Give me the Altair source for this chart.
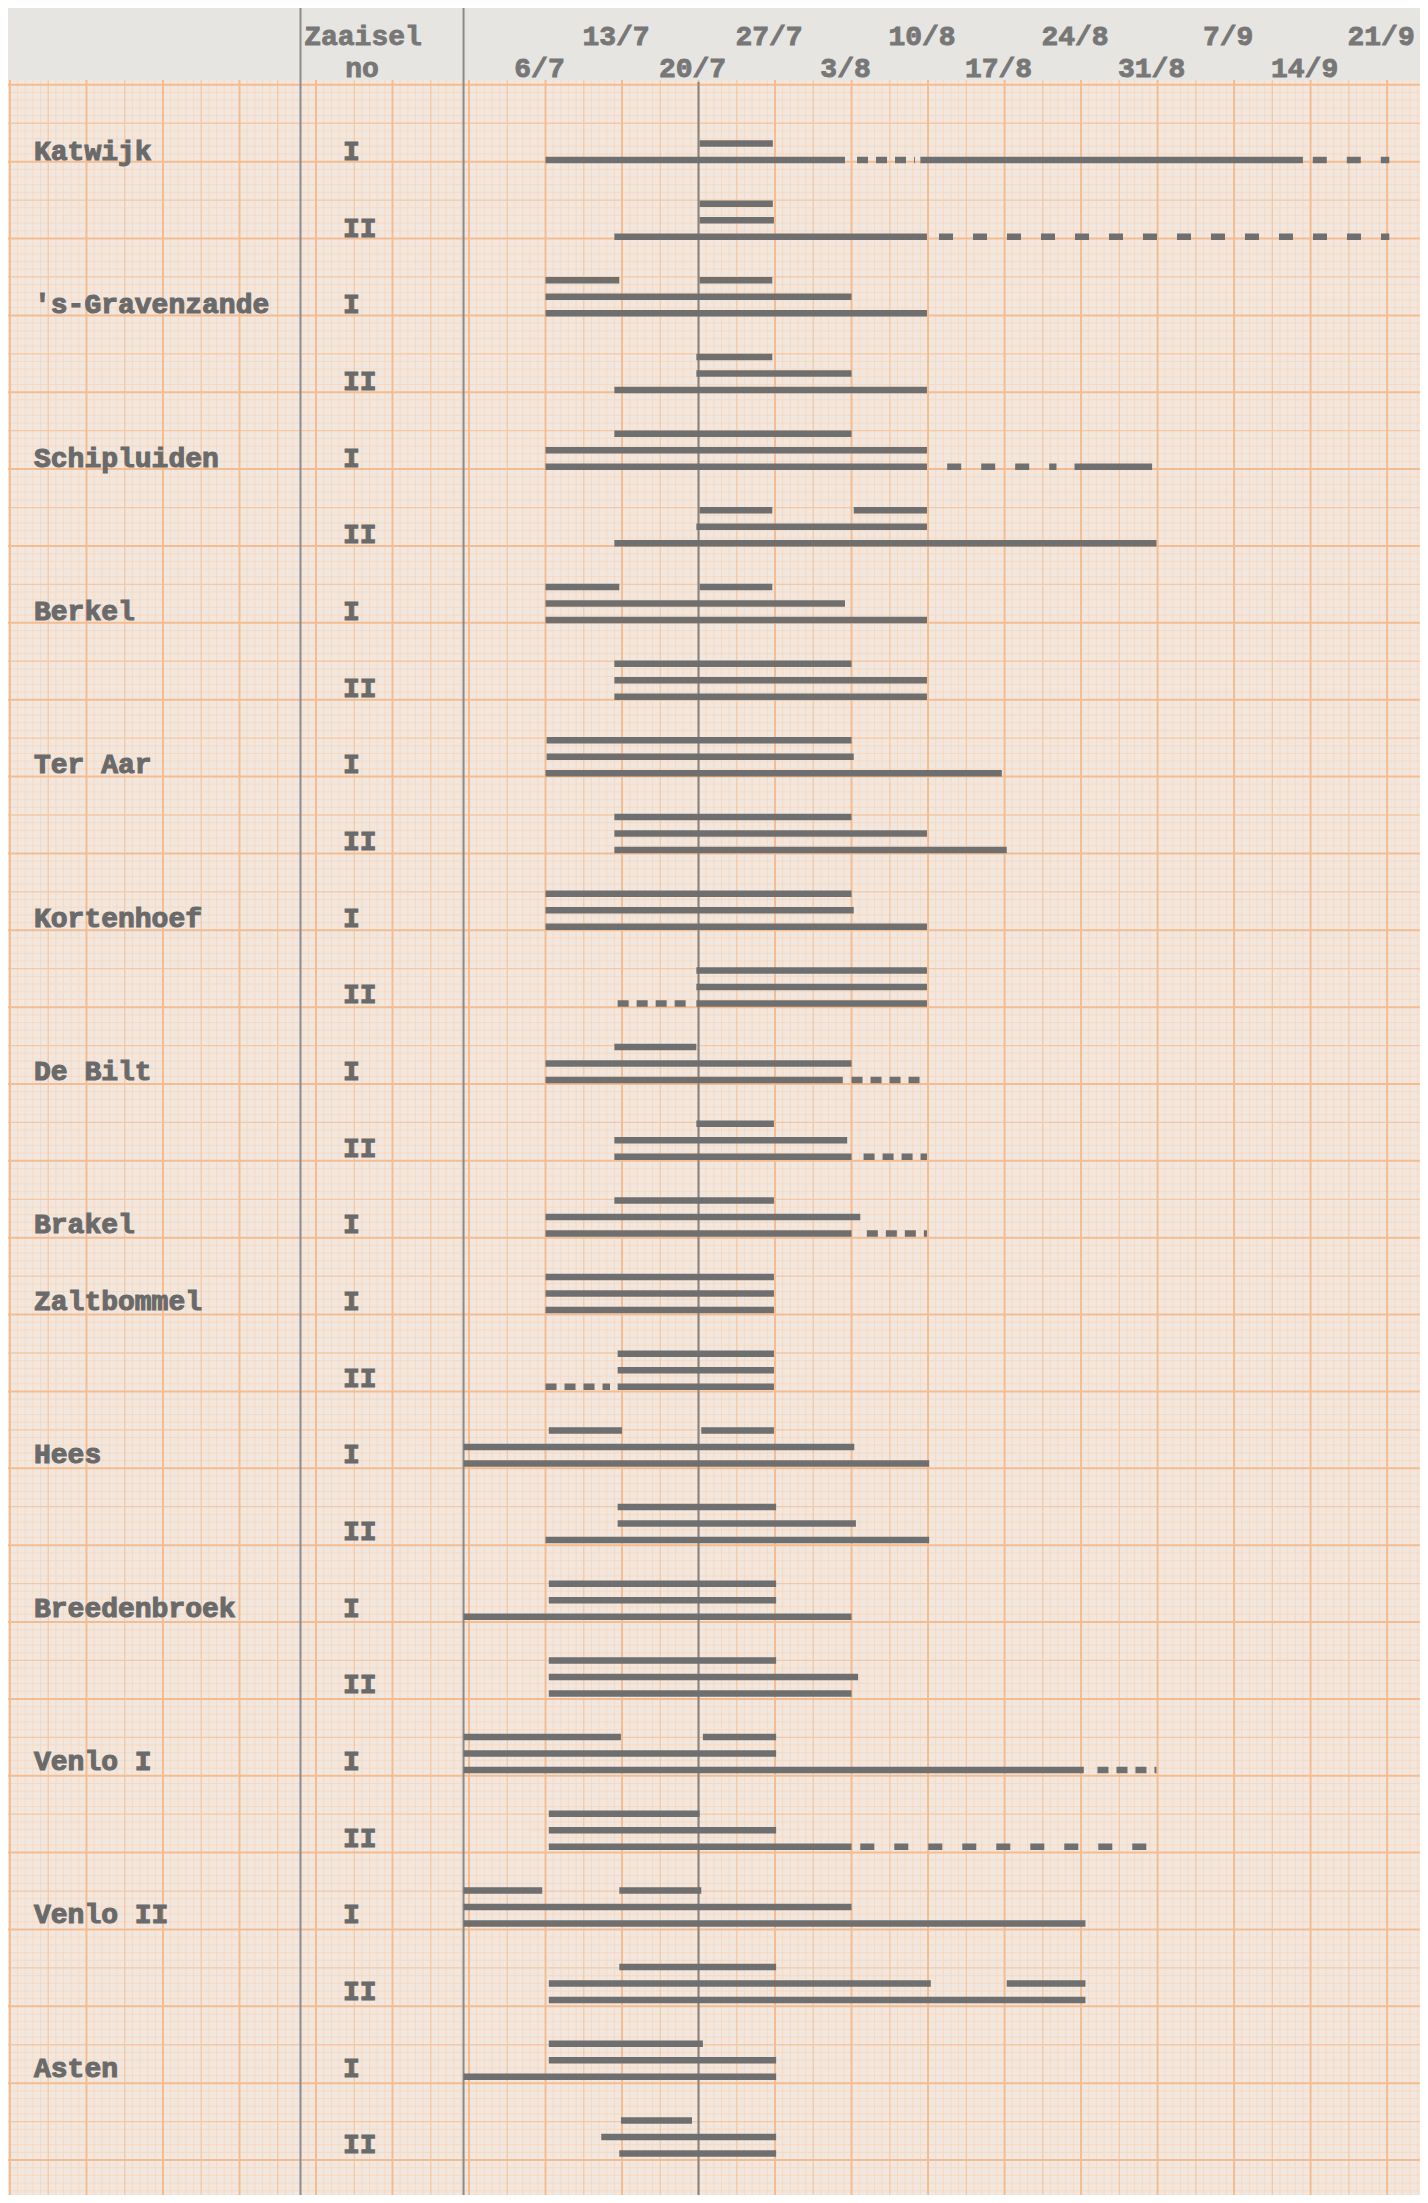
import altair as alt
import pandas as pd

# ---------------- data ----------------
# Days are counted from 1 July (1 = 1/7, 32 = 1/8, 63 = 1/9).
# Each bar: (typed line within the sowing row: 0 = top, 1 = middle, 2 = bottom, start day, end day, style)
RECORD_START = -1.5  # bars that run from the left-hand rule

locations = ["Katwijk", "'s-Gravenzande", "Schipluiden", "Berkel", "Ter Aar", "Kortenhoef",
             "De Bilt", "Brakel", "Zaltbommel", "Hees", "Breedenbroek", "Venlo I", "Venlo II", "Asten"]

katwijk = {
    "I": [(1, 20.1, 26.8, "solid"), (2, 6, 33.4, "solid"), (2, 34.5, 39.8, "dot"),
          (2, 40.3, 75.3, "solid"), (2, 76.2, 83.2, "dash")],
    "II": [(0, 20.1, 26.8, "solid"), (1, 20.1, 26.9, "solid"), (2, 12.3, 40.9, "solid"),
           (2, 42.0, 83.2, "dash")],
}
gravenzande = {
    "I": [(0, 6, 12.75, "solid"), (0, 20.1, 26.75, "solid"), (1, 6, 34, "solid"), (2, 6, 40.9, "solid")],
    "II": [(0, 19.8, 26.75, "solid"), (1, 19.8, 34, "solid"), (2, 12.3, 40.9, "solid")],
}
schipluiden = {
    "I": [(0, 12.3, 34, "solid"), (1, 6, 40.9, "solid"), (2, 6, 40.9, "solid"),
          (2, 42.75, 52.75, "dash"), (2, 54.4, 61.5, "solid")],
    "II": [(0, 20.1, 26.75, "solid"), (0, 34.2, 40.9, "solid"), (1, 19.8, 40.9, "solid"),
           (2, 12.3, 61.9, "solid")],
}
berkel = {
    "I": [(0, 6, 12.75, "solid"), (0, 20.1, 26.75, "solid"), (1, 6, 33.4, "solid"), (2, 6, 40.9, "solid")],
    "II": [(0, 12.3, 34, "solid"), (1, 12.3, 40.9, "solid"), (2, 12.3, 40.9, "solid")],
}
ter_aar = {
    "I": [(0, 6.1, 34, "solid"), (1, 6.1, 34.2, "solid"), (2, 6, 47.75, "solid")],
    "II": [(0, 12.3, 34, "solid"), (1, 12.3, 40.9, "solid"), (2, 12.3, 48.2, "solid")],
}
kortenhoef = {
    "I": [(0, 6, 34, "solid"), (1, 6, 34.2, "solid"), (2, 6, 40.9, "solid")],
    "II": [(0, 19.8, 40.9, "solid"), (1, 19.8, 40.9, "solid"), (2, 12.6, 19.0, "dot"),
           (2, 19.8, 40.9, "solid")],
}
de_bilt = {
    "I": [(0, 12.3, 19.8, "solid"), (1, 6, 34, "solid"), (2, 6, 33.2, "solid"), (2, 34.0, 40.9, "dot")],
    "II": [(0, 19.8, 26.9, "solid"), (1, 12.3, 33.6, "solid"), (2, 12.3, 34, "solid"),
           (2, 35.1, 40.9, "dot")],
}
brakel = {
    "I": [(0, 12.3, 26.9, "solid"), (1, 6, 34.8, "solid"), (2, 6, 34, "solid"), (2, 35.4, 40.9, "dot")],
}
zaltbommel = {
    "I": [(0, 6, 26.9, "solid"), (1, 6, 26.9, "solid"), (2, 6, 26.9, "solid")],
    "II": [(0, 12.6, 26.9, "solid"), (1, 12.6, 26.9, "solid"), (2, 6, 11.9, "dot"),
           (2, 12.6, 26.9, "solid")],
}
hees = {
    "I": [(0, 6.3, 13, "solid"), (0, 20.25, 26.9, "solid"), (1, RECORD_START, 34.25, "solid"),
          (2, RECORD_START, 41.1, "solid")],
    "II": [(0, 12.6, 27.1, "solid"), (1, 12.6, 34.4, "solid"), (2, 6, 41.1, "solid")],
}
breedenbroek = {
    "I": [(0, 6.3, 27.1, "solid"), (1, 6.3, 27.1, "solid"), (2, RECORD_START, 34, "solid")],
    "II": [(0, 6.3, 27.1, "solid"), (1, 6.3, 34.6, "solid"), (2, 6.3, 34, "solid")],
}
venlo_1 = {
    "I": [(0, RECORD_START, 12.9, "solid"), (0, 20.4, 27.1, "solid"), (1, RECORD_START, 27.1, "solid"),
          (2, RECORD_START, 55.25, "solid"), (2, 56.5, 61.9, "dot")],
    "II": [(0, 6.3, 20.1, "solid"), (1, 6.3, 27.1, "solid"), (2, 6.3, 34, "solid"),
           (2, 34.8, 61.5, "dash")],
}
venlo_2 = {
    "I": [(0, RECORD_START, 5.7, "solid"), (0, 12.75, 20.25, "solid"), (1, RECORD_START, 34, "solid"),
          (2, RECORD_START, 55.4, "solid")],
    "II": [(0, 12.75, 27.1, "solid"), (1, 6.3, 41.25, "solid"), (1, 48.2, 55.4, "solid"),
           (2, 6.3, 55.4, "solid")],
}
asten = {
    "I": [(0, 6.3, 20.4, "solid"), (1, 6.3, 27.1, "solid"), (2, RECORD_START, 27.1, "solid")],
    "II": [(0, 12.9, 19.4, "solid"), (1, 11.1, 27.1, "solid"), (2, 12.75, 27.1, "solid")],
}
sowings = [katwijk, gravenzande, schipluiden, berkel, ter_aar, kortenhoef, de_bilt, brakel,
           zaltbommel, hees, breedenbroek, venlo_1, venlo_2, asten]

tick_top_labels = ["13/7", "27/7", "10/8", "24/8", "7/9", "21/9"]
tick_top_days = [13, 27, 41, 55, 69, 83]
tick_bottom_labels = ["6/7", "20/7", "3/8", "17/8", "31/8", "14/9"]
tick_bottom_days = [6, 20, 34, 48, 62, 76]
REFERENCE_DAY = 20  # 20/7, the vertical reference rule

# ---------------- layout / style ----------------
W, H, TOP = 1412, 2115, 72
LINE_STEP = 0.2152          # spacing of typed lines inside a sowing row (row units)
LABEL_SHIFT = -0.104        # label centre relative to the bottom typed line
xs = alt.Scale(domain=[-43.18, 86.01], nice=False, zero=False)
ys = alt.Scale(domain=[-1.0434, 26.542], nice=False, zero=False, reverse=True)

FONT = "Liberation Mono"
INK = "#6a6a6a"
BAR = "#6f6f6f"

# ---------------- tables ----------------
bar_rows, name_rows, no_rows = [], [], []
row = 0
for loc, sow in zip(locations, sowings):
    first = True
    for no, bars in sow.items():
        for line, start, end, style in bars:
            bar_rows.append({"row": row, "y": row + (line - 2) * LINE_STEP,
                             "start": start, "end": end, "style": style})
        no_rows.append({"y": row + LABEL_SHIFT, "no": no})
        if first:
            name_rows.append({"y": row + LABEL_SHIFT, "name": loc})
            first = False
        row += 1
bars_df = pd.DataFrame(bar_rows)
names_df = pd.DataFrame(name_rows)
nos_df = pd.DataFrame(no_rows)
ticks_df = pd.concat([
    pd.DataFrame({"day": tick_top_days, "label": tick_top_labels, "level": "top"}),
    pd.DataFrame({"day": tick_bottom_days, "label": tick_bottom_labels, "level": "bottom"}),
])


# graph-paper grid (1 cm = 7 days horizontally, 1 mm = 0.7 day)
def frange(a, step, lo, hi):
    out = []
    v = a
    while v > lo:
        v -= step
    while v <= hi:
        if v >= lo:
            out.append(round(v, 4))
        v += step
    return out


gx_major = frange(6, 7, -43.18, 86.01)
gx_medium = frange(9.5, 7, -43.18, 86.01)
gx_fine = [v for v in frange(6, 0.7, -43.18, 86.01)
           if abs((v - 6) / 3.5 - round((v - 6) / 3.5)) > 0.01]
Y_UNIT = 76.86 / 76.67
y0 = (84.8 - 160) / 76.67
gy_major = frange(y0, Y_UNIT, -1.0434, 26.542)
gy_medium = frange(y0 + Y_UNIT / 2, Y_UNIT, -1.0434, 26.542)
gy_fine = [v for v in frange(y0, Y_UNIT / 10, -1.0434, 26.542)
           if abs((v - y0) / (Y_UNIT / 2) - round((v - y0) / (Y_UNIT / 2))) > 0.01]


def vgrid(vals, color, w):
    return alt.Chart(pd.DataFrame({"x": vals})).mark_rule(color=color, strokeWidth=w).encode(
        x=alt.X("x:Q", scale=xs, axis=None))


def hgrid(vals, color, w):
    return alt.Chart(pd.DataFrame({"y": vals})).mark_rule(color=color, strokeWidth=w).encode(
        y=alt.Y("y:Q", scale=ys, axis=None))


FINE, MED, MAJ = "#f6d8bf", "#f5c8a3", "#f4bd91"
grid = [
    vgrid(gx_fine, FINE, 0.9), hgrid(gy_fine, FINE, 0.9),
    vgrid(gx_medium, MED, 1.3), hgrid(gy_medium, MED, 1.3),
    vgrid(gx_major, MAJ, 2.0), hgrid(gy_major, MAJ, 2.0),
]

one = pd.DataFrame({"a": [0]})
divider_names = alt.Chart(one).mark_rule(color="#8c8c8c", strokeWidth=2).encode(
    x=alt.value(292.5), y=alt.value(-TOP), y2=alt.value(H))
divider_plot = alt.Chart(pd.DataFrame({"d": [RECORD_START]})).mark_rule(
    color="#8a8a8a", strokeWidth=2).encode(
    x=alt.X("d:Q", scale=xs, axis=None), y=alt.value(-TOP), y2=alt.value(H))
ref_line = alt.Chart(pd.DataFrame({"d": [REFERENCE_DAY]})).mark_rule(
    color="#858585", strokeWidth=2).encode(
    x=alt.X("d:Q", scale=xs, axis=None), y=alt.value(2), y2=alt.value(H))

bars = alt.Chart(bars_df).mark_rule(color=BAR, strokeWidth=6.5, strokeCap="butt").encode(
    x=alt.X("start:Q", scale=xs, axis=None),
    x2="end:Q",
    y=alt.Y("y:Q", scale=ys, axis=None),
    strokeDash=alt.StrokeDash("style:N", legend=None,
                              scale=alt.Scale(domain=["solid", "dot", "dash"],
                                              range=[[1, 0], [11, 8], [14, 20]])),
)

txt = dict(font=FONT, fontWeight="bold", fontSize=28, color=INK, baseline="middle",
           stroke=INK, strokeWidth=1.1)
name_text = alt.Chart(names_df).mark_text(align="left", **txt).encode(
    x=alt.value(26), y=alt.Y("y:Q", scale=ys, axis=None), text="name:N")
no_text = alt.Chart(nos_df).mark_text(align="left", **txt).encode(
    x=alt.value(335), y=alt.Y("y:Q", scale=ys, axis=None), text="no:N")

HEAD_INK = "#777777"
htxt = dict(font=FONT, fontWeight="bold", fontSize=28, color=HEAD_INK, baseline="middle",
            stroke=HEAD_INK, strokeWidth=0.9)
tick_top = alt.Chart(ticks_df[ticks_df.level == "top"]).mark_text(align="center", dx=-6, **htxt).encode(
    x=alt.X("day:Q", scale=xs, axis=None), y=alt.value(-43), text="label:N")
tick_bottom = alt.Chart(ticks_df[ticks_df.level == "bottom"]).mark_text(align="center", dx=-6, **htxt).encode(
    x=alt.X("day:Q", scale=xs, axis=None), y=alt.value(-11), text="label:N")
head1 = alt.Chart(pd.DataFrame({"t": ["Zaaisel"]})).mark_text(align="center", **htxt).encode(
    x=alt.value(355), y=alt.value(-43), text="t:N")
head2 = alt.Chart(pd.DataFrame({"t": ["no"]})).mark_text(align="center", **htxt).encode(
    x=alt.value(354), y=alt.value(-11), text="t:N")

chart = alt.layer(
    *grid, divider_names, divider_plot, ref_line, bars, name_text, no_text,
    tick_top, tick_bottom, head1, head2,
).properties(
    width=W, height=H,
    padding={"left": 0, "top": TOP, "right": 0, "bottom": 0},
    autosize=alt.AutoSizeParams(type="none"),
    background="#e7e5e2",
).configure_view(fill="#f2e7de", stroke=None)

chart.save("out.html", embed_options={"renderer": "svg", "actions": False})
